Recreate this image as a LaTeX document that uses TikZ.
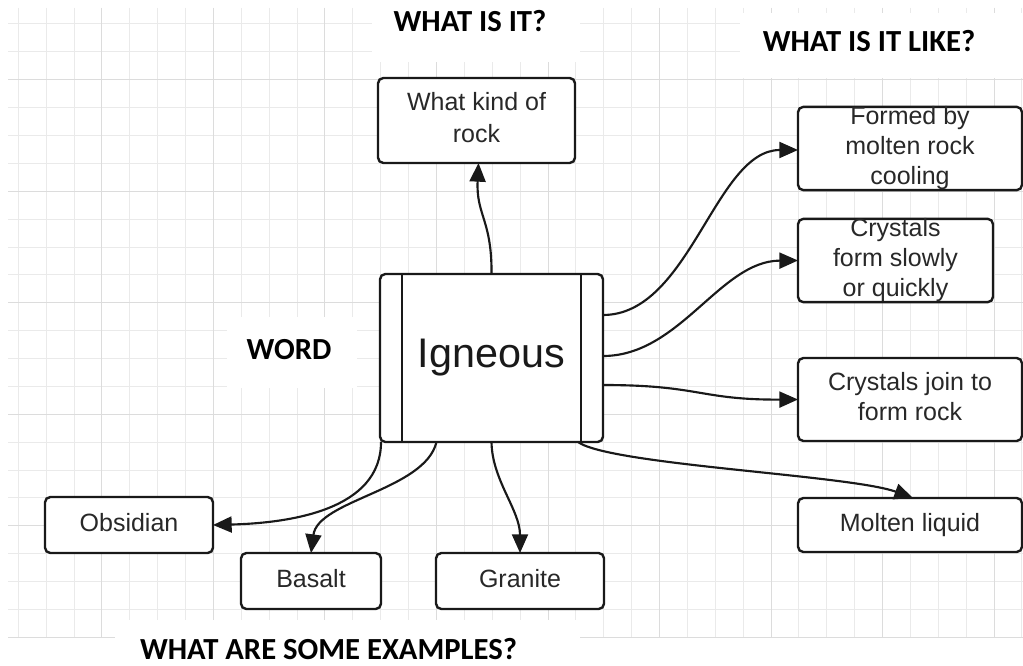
\documentclass[tikz,border=0pt]{standalone}
\usepackage{fontspec}
\setmainfont{Liberation Sans}
\newfontfamily\titlefont{Carlito}
\usetikzlibrary{arrows.meta,calc}
\definecolor{txt}{RGB}{40,40,40}
\definecolor{edge}{RGB}{25,25,25}
\definecolor{gridminor}{RGB}{234,234,234}
\definecolor{gridmajor}{RGB}{220,220,220}
\begin{document}
\begin{tikzpicture}[x=0.75pt,y=-0.75pt,
  box/.style={draw=edge,line width=1.8pt,rounded corners=4pt,fill=white,inner sep=0pt,outer sep=0pt,
    font=\fontsize{18.75pt}{22.5pt}\selectfont,text=txt,align=center},
  one/.style={text height=13.5pt,text depth=3.75pt},
  arr/.style={draw=edge,line width=1.6pt,-{Triangle[length=14pt,width=12pt]}},
  title/.style={font=\titlefont\bfseries\fontsize{23pt}{27pt}\selectfont,anchor=base,text=black,inner sep=0pt},
  gminor/.style={draw=gridminor,line width=0.75pt},
  gmajor/.style={draw=gridmajor,line width=0.75pt}]
\useasboundingbox (0,0) rectangle (1023,666);
\fill[white] (0,0) rectangle (1023,666);
% grid
\foreach \k in {0,...,36}{\pgfmathsetmacro\gx{18.3+27.88*\k}\draw[gminor] (\gx,8) -- (\gx,637);}
\foreach \k in {0,...,22}{\pgfmathsetmacro\gy{24+27.88*\k}\draw[gminor] (8,\gy) -- (1023,\gy);}
\foreach \k in {3,7,...,35}{\pgfmathsetmacro\gx{18.3+27.88*\k}\draw[gmajor] (\gx,8) -- (\gx,637);}
\foreach \k in {2,6,...,22}{\pgfmathsetmacro\gy{24+27.88*\k}\draw[gmajor] (8,\gy) -- (1023,\gy);}
% white patches behind titles
\fill[white] (372,0) rectangle (580,62);
\fill[white] (740,13) rectangle (1023,78);
\fill[white] (227,317) rectangle (357,388);
\fill[white] (115,620) rectangle (580,666);
% titles
\node[title] (t1) at (470,32) {WHAT IS IT?};
\node[title] (t2) at (869,52) {WHAT IS IT LIKE?};
\node[title] (t3) at (289,359) {WORD};
\node[title] (t4) at (328.5,659) {WHAT ARE SOME EXAMPLES?};
% nodes
\node[box,minimum width=147.75pt,minimum height=63.75pt,font=\fontsize{18.75pt}{24pt}\selectfont] (kind) at (476.5,120.5) {What kind of\\rock\vphantom{g}};
\node[box,minimum width=167.25pt,minimum height=126pt,font=\fontsize{31pt}{36pt}\selectfont,text=black!90] (ign) at (491.5,358) {Igneous};
\draw[edge,line width=1.8pt] ($(ign.north west)+(22,0)$) -- ($(ign.south west)+(22,0)$);
\draw[edge,line width=1.8pt] ($(ign.north east)+(-22,0)$) -- ($(ign.south east)+(-22,0)$);
\node[box,minimum width=168pt,minimum height=62.25pt] (formed) at (910,148.5) {Formed by\\molten rock\\cooling};
\node[box,minimum width=146.25pt,minimum height=62.25pt] (crysform) at (895.5,260.5) {Crystals\\form slowly\\or quickly};
\node[box,minimum width=168pt,minimum height=62.25pt] (join) at (910,399.5) {Crystals join to\\form rock\vphantom{g}};
\node[box,one,minimum width=168pt,minimum height=40.5pt] (molten) at (910,525) {Molten liquid};
\node[box,one,minimum width=126pt,minimum height=42pt] (obs) at (129,525) {Obsidian};
\node[box,one,minimum width=105pt,minimum height=42pt] (basalt) at (311,581) {Basalt};
\node[box,one,minimum width=126pt,minimum height=42pt] (granite) at (520,581) {Granite};
% connectors
\draw[arr] (ign.north) .. controls (492,220) and (476,215) .. ($(kind.south)+(2,0)$);
\draw[arr] ($(ign.east)+(0,-43)$) .. controls (690,315) and (715,150) .. ($(formed.west)+(0,1.5)$);
\draw[arr] ($(ign.east)+(0,-2)$) .. controls (680,356) and (720,261) .. (crysform.west);
\draw[arr] ($(ign.east)+(0,27)$) .. controls (700,385) and (700,400) .. (join.west);
\draw[arr] ($(ign.south east)+(-25,0)$) .. controls (610,465) and (850,475) .. ($(molten.north)+(3,0)$);
\draw[arr] ($(ign.south west)+(1,0)$) .. controls (381,510) and (290,523) .. (obs.east);
\draw[arr] ($(ign.south)+(-55,0)$) .. controls (425,490) and (318,500) .. (basalt.north);
\draw[arr] (ign.south) .. controls (492,480) and (520,510) .. (granite.north);
\end{tikzpicture}
\end{document}
